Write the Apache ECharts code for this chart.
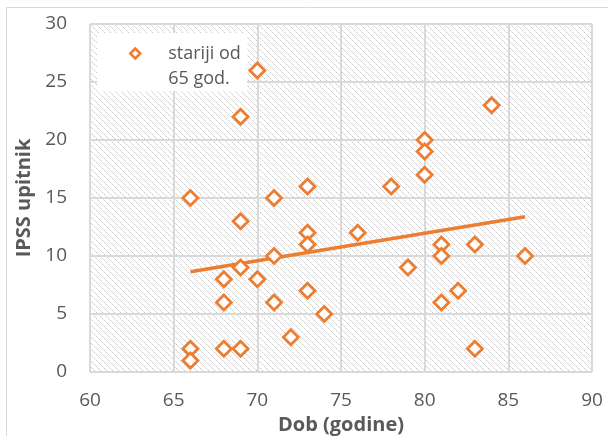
<!DOCTYPE html>
<html>
<head>
<meta charset="utf-8">
<script src="https://cdn.jsdelivr.net/npm/echarts@6/dist/echarts.min.js"></script>
<style>
  html, body { margin: 0; padding: 0; background: #fff; }
  #chart { width: 608px; height: 436px; }
</style>
</head>
<body>
<div id="chart"></div>
<script>
// age (years) and IPSS score for patients older than 65
var ages = [66, 66, 66, 68, 68, 68, 69, 69, 69, 69, 70, 70, 71, 71, 71, 72, 73, 73, 73, 73,
            74, 76, 78, 79, 80, 80, 80, 81, 81, 81, 82, 83, 83, 84, 86];
var ipss = [15, 2, 1, 8, 6, 2, 22, 13, 9, 2, 26, 8, 15, 10, 6, 3, 16, 12, 11, 7,
            5, 12, 16, 9, 20, 19, 17, 11, 10, 6, 7, 11, 2, 23, 10];
var seriesName = 'stariji od 65 god.';
var legendLines = ['stariji od', '65 god.'];
var xTicks = [60, 65, 70, 75, 80, 85, 90];
var yTicks = [0, 5, 10, 15, 20, 25, 30];

var ORANGE = '#ED7D31';
var GREY_TXT = '#595959';
var FONT = '"Open Sans", sans-serif';

// linear trend (least squares)
function trend(xs, ys) {
  var n = xs.length, mx = 0, my = 0;
  for (var i = 0; i < n; i++) { mx += xs[i]; my += ys[i]; }
  mx /= n; my /= n;
  var sxy = 0, sxx = 0;
  for (var j = 0; j < n; j++) {
    sxy += (xs[j] - mx) * (ys[j] - my);
    sxx += (xs[j] - mx) * (xs[j] - mx);
  }
  var b = sxy / sxx, a = my - b * mx;
  var x0 = Math.min.apply(null, xs), x1 = Math.max.apply(null, xs);
  return [[x0, a + b * x0], [x1, a + b * x1]];
}

// hatch pattern for plot area
function hatch() {
  var c = document.createElement('canvas');
  c.width = 6; c.height = 6;
  var ctx = c.getContext('2d');
  ctx.fillStyle = '#fff';
  ctx.fillRect(0, 0, 6, 6);
  for (var i = 0; i < 6; i++) {
    ctx.fillStyle = (i % 2 == 0) ? '#c8c8c8' : '#e6e6e6';
    ctx.fillRect(i, i, 1, 1);
  }
  return c;
}

var points = ages.map(function (a, i) { return [a, ipss[i]]; });

var chart = echarts.init(document.getElementById('chart'));
var option = {
  animation: false,
  backgroundColor: '#fff',
  textStyle: { fontFamily: FONT },
  graphic: [{
    type: 'rect',
    shape: { x: 6.5, y: 7.5, width: 800, height: 600 },
    style: { fill: 'none', stroke: '#d9d9d9', lineWidth: 1 },
    silent: true
  }, {
    // legend box
    type: 'rect',
    shape: { x: 97, y: 33, width: 150, height: 58 },
    style: { fill: '#fff' },
    z: 1,
    silent: true
  }],
  grid: {
    left: 90, top: 24, right: 16, bottom: 64,
    outerBoundsMode: 'none',
    show: true,
    backgroundColor: { image: hatch(), repeat: 'repeat' },
    borderWidth: 0
  },
  legend: {
    left: 129, top: 44.5,
    padding: 0,
    itemWidth: 10, itemHeight: 10,
    data: [{ name: seriesName, icon: 'diamond', itemStyle: { color: '#fff', borderColor: ORANGE, borderWidth: 2.5 } }],
    formatter: function () {
      return legendLines.map(function (s) { return '{t|' + s + '}'; }).join('\n');
    },
    textStyle: {
      padding: [25, 0, 0, 23],
      rich: { t: { color: GREY_TXT, fontSize: 18, lineHeight: 25, fontFamily: FONT } }
    },
    z: 5
  },
  xAxis: {
    type: 'value',
    min: xTicks[0], max: xTicks[xTicks.length - 1], interval: 5,
    name: 'Dob (godine)',
    nameLocation: 'middle',
    nameGap: 33,
    nameTextStyle: { color: GREY_TXT, fontSize: 20, fontWeight: 'bold' },
    axisLine: { show: false },
    axisTick: { show: false },
    axisLabel: { color: GREY_TXT, fontSize: 19, margin: 19 },
    splitLine: { show: true, lineStyle: { color: '#d9d9d9', width: 2 } }
  },
  yAxis: {
    type: 'value',
    min: yTicks[0], max: yTicks[yTicks.length - 1], interval: 5,
    name: 'IPSS upitnik',
    nameLocation: 'middle',
    nameGap: 53,
    nameTextStyle: { color: GREY_TXT, fontSize: 20, fontWeight: 'bold' },
    axisLine: { show: false },
    axisTick: { show: false },
    axisLabel: { color: GREY_TXT, fontSize: 19, margin: 23 },
    splitLine: { show: true, lineStyle: { color: '#d9d9d9', width: 2 } }
  },
  series: [{
    name: seriesName,
    type: 'scatter',
    symbol: 'diamond',
    symbolSize: 15,
    itemStyle: { color: '#fff', borderColor: ORANGE, borderWidth: 2.8, opacity: 1 },
    data: points,
    z: 3
  }, {
    name: 'trend',
    type: 'line',
    symbol: 'none',
    lineStyle: { color: ORANGE, width: 3.5 },
    data: trend(ages, ipss),
    z: 2
  }]
};
chart.setOption(option);
</script>
</body>
</html>
